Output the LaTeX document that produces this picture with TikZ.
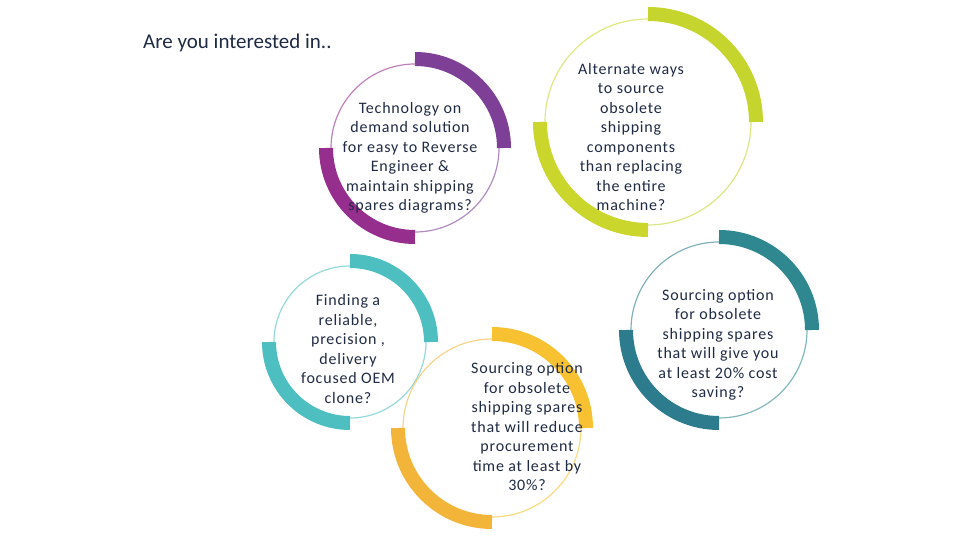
\documentclass[tikz,border=0pt]{standalone}
\usepackage{fontspec}
\setmainfont{Carlito}
\newfontfamily\lblfont[LetterSpace=5]{Carlito}
\definecolor{txt}{HTML}{1F2A44}
\definecolor{cpur}{HTML}{7E3F96}
\definecolor{cpur2}{HTML}{962E8E}
\definecolor{clime}{HTML}{C5D52E}
\definecolor{clime2}{HTML}{CBD62C}
\definecolor{cteal}{HTML}{4DBFC0}
\definecolor{cdteal}{HTML}{2F8890}
\definecolor{cdteal2}{HTML}{2C7C8E}
\definecolor{cyel}{HTML}{F7C131}
\definecolor{cyel2}{HTML}{F3B43A}
\tikzset{
 lbl/.style={text=txt,align=center,font=\lblfont\fontsize{16}{19.5}\selectfont,inner sep=0pt},
}
\newcommand{\ring}[5]{%
 \draw[line width=14pt,#4] ([shift={(#1,#2)}]90:#3) arc (90:0:#3);
 \draw[line width=14pt,#5] ([shift={(#1,#2)}]270:#3) arc (270:180:#3);
 \draw[line width=1.2pt,#4!60] ([shift={(#1,#2)}]0:#3-5) arc (0:-90:#3-5);
 \draw[line width=1.2pt,#5!60] ([shift={(#1,#2)}]180:#3-5) arc (180:90:#3-5);
}
\begin{document}
\begin{tikzpicture}[x=1pt,y=1pt]
\useasboundingbox (0,0) rectangle (960,540);
\node[anchor=west,text=txt,font=\fontsize{21}{24}\selectfont,inner sep=0pt] (title) at (143,497) {Are you interested in..};
\ring{415}{392}{89}{cpur}{cpur2}
\ring{648}{418}{108}{clime}{clime2}
\ring{350}{198}{81}{cteal}{cteal}
\ring{492}{112}{94}{cyel}{cyel2}
\ring{719}{210}{93}{cdteal}{cdteal2}
\node[lbl] (t1) at (410,382) {Technology on\\demand solution\\for easy to Reverse\\Engineer \&\\maintain shipping\\spares diagrams?};
\node[lbl] (t2) at (631,403) {Alternate ways\\to source\\obsolete\\shipping\\components\\than replacing\\the entire\\machine?};
\node[lbl] (t3) at (348,191) {Finding a\\reliable,\\precision ,\\delivery\\focused OEM\\clone?};
\node[lbl] (t4) at (527,113) {Sourcing option\\for obsolete\\shipping spares\\that will reduce\\procurement\\time at least by\\30\%?};
\node[lbl] (t5) at (718,195) {Sourcing option\\for obsolete\\shipping spares\\that will give you\\at least 20\% cost\\saving?};
\end{tikzpicture}
\end{document}
